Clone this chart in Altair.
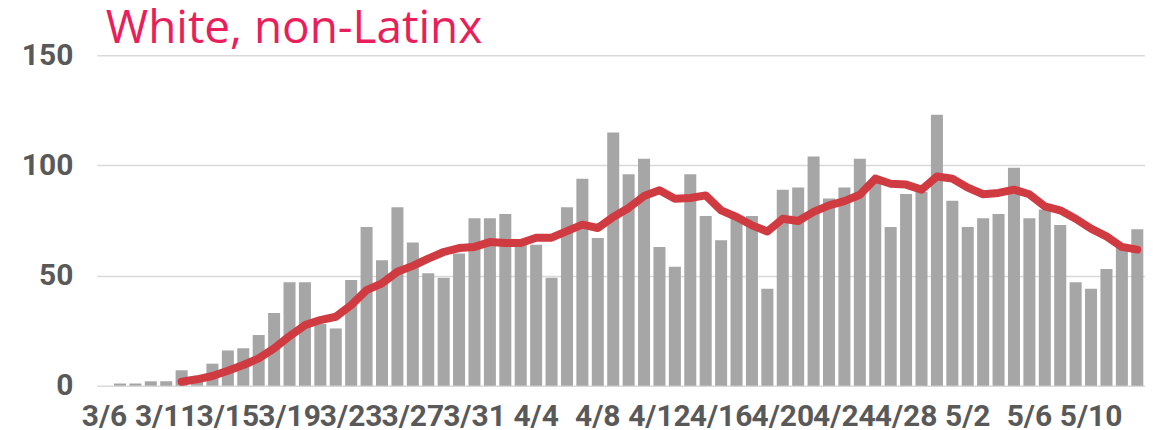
import altair as alt
import pandas as pd

# Categories (one date missing between 3/6 and 3/11 in the source)
dates = ["3/6"] + [f"{d.month}/{d.day}" for d in pd.date_range("2020-03-08", "2020-05-13")]
label_dates = dates[::4]

daily = [0, 1, 1, 2, 2, 7, 4, 10, 16, 17,
         23, 33, 47, 47, 28, 26, 48, 72, 57, 81,
         65, 51, 49, 60, 76, 76, 78, 65, 64, 49,
         81, 94, 67, 115, 96, 103, 63, 54, 96, 77,
         66, 77, 77, 44, 89, 90, 104, 85, 90, 103,
         92, 72, 87, 88, 123, 84, 72, 76, 78, 99,
         76, 80, 73, 47, 44, 53, 63, 71]

avg = [None, None, None, None, None, 1.8, 2.9, 4.4, 6.8, 9.4,
       12.4, 16.9, 22.5, 27.5, 29.8, 31.3, 36.6, 43.4, 46.5, 51.7,
       54.4, 57.7, 60.7, 62.5, 63.0, 65.2, 64.8, 64.8, 67.2, 67.2,
       70.2, 73.1, 71.6, 76.6, 80.7, 86.1, 88.7, 84.9, 85.2, 86.4,
       79.6, 76.6, 72.8, 70.0, 75.8, 74.8, 78.9, 81.9, 83.8, 86.7,
       94.0, 91.7, 91.3, 89.0, 95.0, 94.0, 89.9, 86.9, 87.5, 89.0,
       86.9, 81.4, 79.6, 75.8, 71.3, 67.8, 63.0, 61.8]

title_text = "White, non-Latinx"

df = pd.DataFrame({"date": dates, "daily": daily, "avg": avg})

x = alt.X("date:N", sort=dates, title=None,
          scale=alt.Scale(paddingInner=0.22, paddingOuter=0.11),
          axis=alt.Axis(values=label_dates, labelAngle=0, labelOverlap=False,
                        labelBound=False, labelFlush=False, domain=False, ticks=False,
                        labelFont="Roboto", labelFontSize=30, labelFontWeight="bold",
                        labelColor="#595959", labelPadding=16))

y_axis = alt.Axis(values=[0, 50, 100, 150], title=None, domain=False, ticks=False,
                  labelFont="Roboto", labelFontSize=30, labelFontWeight="bold",
                  labelColor="#595959", labelPadding=24,
                  gridColor="#D9D9D9", gridWidth=1.5)

bars = alt.Chart(df).mark_bar(color="#A6A6A6").encode(
    x=x,
    y=alt.Y("daily:Q", scale=alt.Scale(domain=[0, 150], nice=False), axis=y_axis),
)

line = alt.Chart(df).mark_line(color="#D03A41", strokeWidth=8,
                               strokeCap="round", strokeJoin="round").encode(
    x=x,
    y=alt.Y("avg:Q"),
)

title = alt.Chart(pd.DataFrame({"t": [title_text]})).mark_text(
    font="Open Sans", fontSize=46, color="#E91E5A", align="left",
    baseline="alphabetic", clip=False,
).encode(text="t:N", x=alt.value(9), y=alt.value(-12))

chart = alt.layer(bars, line, title).properties(
    width=1050, height=331,
    autosize=alt.AutoSizeParams(type="none"),
    padding={"left": 89, "top": 47, "right": 0, "bottom": 44},
).configure_view(stroke=None)

chart.save("out.html", embed_options={"renderer": "svg", "actions": False})
